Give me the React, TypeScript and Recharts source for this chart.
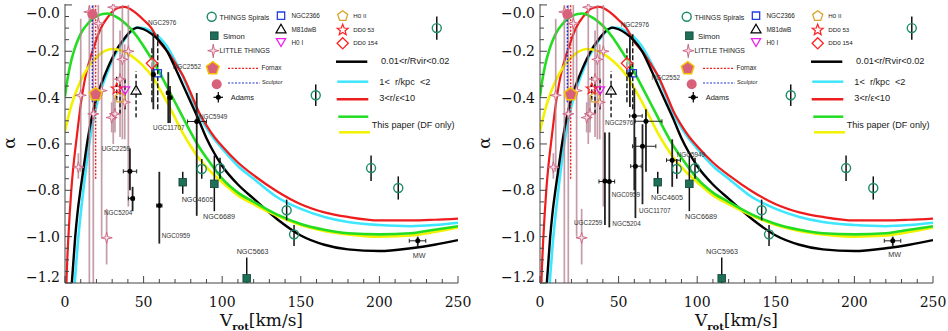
import React from 'react';
import { ComposedChart, Line, Scatter, XAxis, YAxis, ErrorBar } from 'recharts';

// model curves: alpha against V_rot
const CURVE_V = [0, 1, 2, 3, 4, 5, 6.5, 8, 10, 12, 14, 16, 18, 21, 24, 27, 30, 34, 38, 42, 46, 50, 55, 60, 65, 70, 75, 80, 85, 90, 95, 100, 110, 120, 135, 150, 165, 180, 200, 220, 235, 250];
const CURVE_BLACK = [null, null, null, -1.32, -1.23, -1.14, -1.0, -0.895, -0.79, -0.695, -0.6, -0.52, -0.455, -0.38, -0.325, -0.275, -0.23, -0.18, -0.143, -0.112, -0.098, -0.105, -0.125, -0.155, -0.2, -0.27, -0.345, -0.42, -0.495, -0.575, -0.64, -0.695, -0.775, -0.836, -0.925, -0.995, -1.035, -1.055, -1.062, -1.05, -1.035, -1.015];
const CURVE_CYAN = [null, null, null, null, -1.42, -1.32, -1.17, -1.04, -0.9, -0.78, -0.67, -0.575, -0.5, -0.41, -0.345, -0.29, -0.24, -0.19, -0.148, -0.115, -0.098, -0.1, -0.115, -0.14, -0.18, -0.24, -0.31, -0.39, -0.47, -0.53, -0.58, -0.62, -0.695, -0.75, -0.83, -0.88, -0.915, -0.937, -0.95, -0.955, -0.95, -0.94];
const CURVE_RED = [-1.45, -1.18, -1.02, -0.9, -0.8, -0.72, -0.625, -0.54, -0.43, -0.345, -0.28, -0.23, -0.19, -0.13, -0.085, -0.055, -0.03, -0.012, -0.008, -0.02, -0.04, -0.065, -0.1, -0.16, -0.2, -0.25, -0.305, -0.38, -0.46, -0.52, -0.57, -0.61, -0.68, -0.735, -0.805, -0.86, -0.895, -0.915, -0.93, -0.93, -0.927, -0.922];
const CURVE_GREEN = [-0.395, -0.345, -0.305, -0.27, -0.24, -0.215, -0.182, -0.155, -0.125, -0.102, -0.085, -0.07, -0.058, -0.046, -0.039, -0.037, -0.043, -0.057, -0.078, -0.104, -0.138, -0.178, -0.232, -0.29, -0.355, -0.42, -0.485, -0.55, -0.61, -0.66, -0.707, -0.75, -0.81, -0.85, -0.905, -0.945, -0.97, -0.985, -0.99, -0.985, -0.97, -0.955];
const CURVE_YELLOW = [-0.545, -0.515, -0.487, -0.46, -0.436, -0.414, -0.385, -0.358, -0.327, -0.3, -0.277, -0.257, -0.24, -0.22, -0.204, -0.194, -0.19, -0.193, -0.203, -0.219, -0.24, -0.265, -0.305, -0.36, -0.42, -0.487, -0.553, -0.61, -0.66, -0.7, -0.735, -0.765, -0.822, -0.86, -0.91, -0.95, -0.975, -0.99, -1.0, -0.995, -0.98, -0.96];

// THINGS spirals
const THINGS_V = [87, 98.6, 141, 145.7, 159.5, 194.7, 212, 236.5];
const THINGS_A = [-0.708, -0.705, -0.886, -0.99, -0.39, -0.704, -0.79, -0.1];
const THINGS_LO = [-0.75, -0.75, -0.93, -1.04, -0.436, -0.76, -0.84, -0.15];
const THINGS_HI = [-0.665, -0.66, -0.84, -0.95, -0.343, -0.65, -0.74, -0.05];

// Simon
const SIMON_V = [74.9, 95, 115.6];
const SIMON_A = [-0.765, -0.772, -1.18];
const SIMON_LO = [-0.815, -0.89, -1.2];
const SIMON_HI = [-0.72, -0.65, -1.09];

// LITTLE THINGS
const LT_V = [15.5, 21.2, 30.7, 10, 8.5, 26.5, 35, 36.5, 40.3, 29.7, 31.8, 38, 18, 23.3];
const LT_A = [-0.03, -0.08, -0.01, -0.39, -0.7, -1.005, -0.32, -0.235, -0.2, -0.486, -0.47, -0.42, -0.47, -0.37];
const LT_LO = [-1.2, -0.4, -0.6, -0.72, -0.75, -1.12, -0.57, -0.58, -0.87, -0.55, -0.55, -0.58, -1.2, -1.0];
const LT_HI = [0, 0, 0, -0.06, -0.64, -0.88, -0.11, 0, 0, -0.42, -0.4, -0.17, 0, -0.1];

// single dwarfs (dashed error bars)
const DWARF_NAMES = ['NGC2366', 'M81dwB', 'HoI', 'HoII', 'DDO53', 'DDO154'];
const DWARF_V = [59, 45.2, 38.2, 35, 32.9, 55.3];
const DWARF_A = [-0.295, -0.372, -0.365, -0.4, -0.362, -0.252];
const DWARF_LO = [-0.45, -0.485, -0.45, -0.47, -0.41, -0.42];
const DWARF_HI = [-0.12, -0.286, -0.32, -0.33, -0.31, -0.185];

// Fornax / Sculptor
const FORNAX = { v: 19.5, a: -0.386, lo: -0.75, hi: 0 };
const SCULPTOR = { v: 17.4, a: -0.04, lo: -0.42, hi: 0 };

// Adams, left panel
const ADAMS_L_V = [56.2, 65.7, 66.8, 83.8, 41.3, 43.0, 60.0, 224.4];
const ADAMS_L_A = [-0.3, -0.379, -0.4, -0.503, -0.718, -0.835, -0.866, -1.018];
const ADAMS_L_YLO = [-0.45, -0.51, -0.51, -0.91, -0.8, -0.89, -1.03, -1.04];
const ADAMS_L_YHI = [-0.12, -0.29, -0.35, -0.38, -0.62, -0.785, -0.72, -1.0];
const ADAMS_L_XLO = [55.2, 64.5, 65.5, 78, 37.1, 40.3, 58.3, 219];
const ADAMS_L_XHI = [57.2, 67, 68, 90, 45.6, 44, 61.7, 229.5];

// Adams, right panel
const ADAMS_R_V = [57.2, 60, 67.4, 65.2, 60.7, 44.1, 41.3, 84.1, 224.4];
const ADAMS_R_A = [-0.3, -0.479, -0.502, -0.61, -0.696, -0.762, -0.76, -0.67, -1.018];
const ADAMS_R_YLO = [-0.44, -0.8, -0.72, -0.86, -0.92, -0.96, -0.95, -0.785, -1.04];
const ADAMS_R_YHI = [-0.14, -0.36, -0.45, -0.515, -0.57, -0.55, -0.55, -0.58, -1.0];
const ADAMS_R_XLO = [56.2, 57, 60.6, 58.9, 57.7, 37.5, 40.8, 80.5, 219];
const ADAMS_R_XHI = [58.2, 65, 77.6, 73.7, 64.4, 47.5, 41.8, 89.3, 229.5];

// galaxy name annotations (data coords of the text start)
const LEFT_LABEL_TEXT = ['NGC2976', 'NGC2552', 'UGC11707', 'NGC5949', 'UGC2259', 'NGC4605', 'NGC6689', 'NGC5204', 'NGC0959', 'NGC5663', 'MW'];
const LEFT_LABEL_V = [52.8, 68.5, 56, 85.2, 23.3, 74.2, 87.8, 24.8, 61.5, 109.2, 221.2];
const LEFT_LABEL_A = [-0.077, -0.265, -0.528, -0.48, -0.618, -0.841, -0.914, -0.897, -0.996, -1.064, -1.08];
const RIGHT_LABEL_TEXT = ['NGC2976', 'NGC2552', 'NGC2976', 'NGC5949', 'NGC0959', 'NGC4605', 'UGC11707', 'NGC6689', 'NGC5204', 'UGC2259', 'NGC5963', 'MW'];
const RIGHT_LABEL_V = [51.3, 71, 41.3, 87, 45.6, 70.6, 63, 92.2, 46, 21.6, 105.6, 221.6];
const RIGHT_LABEL_A = [-0.086, -0.312, -0.508, -0.647, -0.82, -0.83, -0.888, -0.915, -0.945, -0.941, -1.066, -1.077];

const X_TICKS = Array.from({ length: 26 }, (_, i) => i * 10);
const Y_TICKS = Array.from({ length: 25 }, (_, i) => Math.round((-1.2 + i * 0.05) * 100) / 100);

const W = 474;
const H = 331;
const PLOT = { left: 65, right: 458, top: 4, bottom: 283 };
const FRAME = '#444';
const SERIF = '"DejaVu Serif", serif';
const SANS = '"Liberation Sans", Arial, sans-serif';
const BIG_LABELS = new Set(['NGC4605', 'NGC6689', 'NGC5663', 'NGC5963', 'MW']);

const curveRows = CURVE_V.map((v, i) => ({
    v,
    black: CURVE_BLACK[i],
    cyan: CURVE_CYAN[i],
    red: CURVE_RED[i],
    green: CURVE_GREEN[i],
    yellow: CURVE_YELLOW[i],
}));

const pts = (v: number[], a: number[], lo?: number[], hi?: number[], xlo?: number[], xhi?: number[]) =>
    v.map((x, i) => ({
        v: x,
        a: a[i],
        ey: lo && hi ? [a[i] - lo[i], hi[i] - a[i]] : undefined,
        ex: xlo && xhi ? [x - xlo[i], xhi[i] - x] : undefined,
    }));

const labelPts = (text: string[], v: number[], a: number[]) => text.map((t, i) => ({ v: v[i], a: a[i], text: t }));

const thingsPts = pts(THINGS_V, THINGS_A, THINGS_LO, THINGS_HI);
const simonPts = pts(SIMON_V, SIMON_A, SIMON_LO, SIMON_HI);
const ltPts = pts(LT_V, LT_A, LT_LO, LT_HI);
const adamsLeft = pts(ADAMS_L_V, ADAMS_L_A, ADAMS_L_YLO, ADAMS_L_YHI, ADAMS_L_XLO, ADAMS_L_XHI);
const adamsRight = pts(ADAMS_R_V, ADAMS_R_A, ADAMS_R_YLO, ADAMS_R_YHI, ADAMS_R_XLO, ADAMS_R_XHI);

// ---- symbols ----
const ring = (cx: number, cy: number, r: number, n: number, rot: number, inner?: number) => {
    const m = inner ? n * 2 : n;
    return Array.from({ length: m }, (_, i) => {
        const t = rot + (i * 2 * Math.PI) / m;
        const rr = inner && i % 2 === 1 ? inner : r;
        return `${(cx + rr * Math.cos(t)).toFixed(2)},${(cy + rr * Math.sin(t)).toFixed(2)}`;
    }).join(' ');
};
const UP = -Math.PI / 2;

const SYM: Record<string, (x: number, y: number) => React.ReactElement> = {
    things: (x, y) => <circle cx={x} cy={y} r={4.5} fill="none" stroke="#1d8a68" strokeWidth={1.4} />,
    simon: (x, y) => <rect x={x - 3.8} y={y - 3.8} width={7.6} height={7.6} fill="#1f6e58" stroke="#0f4434" strokeWidth={0.8} />,
    little: (x, y) => <polygon points={ring(x, y, 5.6, 4, UP, 1.6)} fill="#f6dde4" stroke="#c8607e" strokeWidth={0.9} />,
    fornax: (x, y) => <polygon points={ring(x, y, 6.6, 5, UP)} fill="#d9607a" stroke="#f2c200" strokeWidth={1.5} />,
    sculptor: (x, y) => <circle cx={x} cy={y} r={5} fill="#d9607a" />,
    adams: (x, y) => <circle cx={x} cy={y} r={2.5} fill="#000" />,
    NGC2366: (x, y) => <polygon points={ring(x, y, 5.2, 4, Math.PI / 4)} fill="none" stroke="#2040e0" strokeWidth={1.3} />,
    M81dwB: (x, y) => <polygon points={ring(x, y, 5.8, 3, UP)} fill="#fff" fillOpacity={0.6} stroke="#000" strokeWidth={1.2} />,
    HoI: (x, y) => <polygon points={ring(x, y, 5.3, 3, Math.PI / 2)} fill="none" stroke="#ee22ee" strokeWidth={1.3} />,
    HoII: (x, y) => <polygon points={ring(x, y, 5.3, 5, UP)} fill="none" stroke="#d9a530" strokeWidth={1.3} />,
    DDO53: (x, y) => <polygon points={ring(x, y, 5.8, 5, UP, 2.5)} fill="none" stroke="#ff2020" strokeWidth={1.2} />,
    DDO154: (x, y) => <polygon points={ring(x, y, 5.6, 4, UP)} fill="#fff" fillOpacity={0.5} stroke="#ff2020" strokeWidth={1.3} />,
};

// ---- axis ticks (drawn inward, IDL style) ----
const BottomTick = (p: any) => {
    const v = p.payload.value;
    const major = v % 50 === 0;
    return (
        <g>
            <line x1={p.x} x2={p.x} y1={PLOT.bottom} y2={PLOT.bottom - (major ? 7 : 4)} stroke={FRAME} />
            {major ? (
                <text x={p.x} y={PLOT.bottom + 24} textAnchor="middle" fontFamily={SERIF} fontSize={14} fill="#111">
                    {v}
                </text>
            ) : null}
        </g>
    );
};

const TopTick = (p: any) => {
    const major = p.payload.value % 50 === 0;
    return <line x1={p.x} x2={p.x} y1={PLOT.top} y2={PLOT.top + (major ? 7 : 4)} stroke={FRAME} />;
};

const isMajorY = (v: number) => Math.abs(Math.round(v * 100)) % 20 === 0;

const LeftTick = (p: any) => {
    const v = p.payload.value;
    const major = isMajorY(v);
    const shift = v === 0 ? 8 : v <= -1.19 ? -6 : 0;
    return (
        <g>
            <line x1={PLOT.left} x2={PLOT.left + (major ? 7 : 4)} y1={p.y} y2={p.y} stroke={FRAME} />
            {major ? (
                <text x={PLOT.left - 5} y={p.y + 5 + shift} textAnchor="end" fontFamily={SERIF} fontSize={14} fill="#111">
                    {'\u2212' + Math.abs(v).toFixed(1)}
                </text>
            ) : null}
        </g>
    );
};

const RightTick = (p: any) => {
    const major = isMajorY(p.payload.value);
    return <line x1={PLOT.right} x2={PLOT.right - (major ? 7 : 4)} y1={p.y} y2={p.y} stroke={FRAME} />;
};

// ---- legend overlay ----
const Legend = () => (
    <svg width={W} height={H} style={{ position: 'absolute', left: 0, top: 0, pointerEvents: 'none' }}>
        <g fontFamily={SANS} fill="#222">
            {SYM.things(211.7, 16.7)}
            <text x={219.5} y={19.6} fontSize={7}>THINGS Spirals</text>
            {SYM.simon(214.3, 35.7)}
            <text x={223} y={39} fontSize={7.7}>Simon</text>
            <line x1={213.3} x2={213.3} y1={44} y2={58} stroke="#b7889a" strokeWidth={1.4} />
            {SYM.little(213.3, 50.7)}
            <text x={219.5} y={53.4} fontSize={6.9}>LITTLE THINGS</text>
            {SYM.fornax(212.7, 68.3)}
            <line x1={228} x2={259} y1={68.3} y2={68.3} stroke="#ee2020" strokeWidth={1.2} strokeDasharray="2 1.5" />
            <text x={261.5} y={70} fontSize={6.4}>Fornax</text>
            {SYM.sculptor(216.7, 84.3)}
            <line x1={228} x2={260} y1={83} y2={83} stroke="#2030d0" strokeWidth={1.2} strokeDasharray="2 1.5" />
            <text x={262} y={83.5} fontSize={5.6}>Sculptor</text>
            <line x1={213.5} x2={223} y1={97.3} y2={97.3} stroke="#000" strokeWidth={1.2} />
            <line x1={218.3} x2={218.3} y1={92} y2={102.5} stroke="#000" strokeWidth={1.2} />
            {SYM.adams(218.3, 97.3)}
            <text x={230.7} y={100.3} fontSize={7.5}>Adams</text>

            {SYM.NGC2366(281, 15.7)}
            <text x={291.5} y={18} fontSize={6.4}>NGC2366</text>
            {SYM.M81dwB(281, 30)}
            <text x={291.5} y={31.8} fontSize={6.4}>M81dwB</text>
            {SYM.HoI(281, 41.2)}
            <text x={291.5} y={45} fontSize={6.4}>H0 I</text>
            {SYM.HoII(342.7, 16)}
            <text x={353.3} y={18} fontSize={6.2}>H0 II</text>
            {SYM.DDO53(342.7, 30)}
            <text x={353.3} y={32.3} fontSize={6.2}>DD0 53</text>
            {SYM.DDO154(342.7, 43.3)}
            <text x={353.3} y={45} fontSize={6.2}>DD0 154</text>

            <line x1={336} x2={367.3} y1={61.7} y2={61.7} stroke="#000" strokeWidth={2.5} />
            <text x={381} y={64.3} fontSize={9.2}>0.01&lt;r/Rvir&lt;0.02</text>
            <line x1={337.3} x2={368.3} y1={81.7} y2={81.7} stroke="#3ee6ff" strokeWidth={2.5} />
            <text x={379.3} y={84.8} fontSize={9.2} style={{ whiteSpace: 'pre' }}>{'1<  r/kpc  <2'}</text>
            <line x1={336.7} x2={368.3} y1={99.3} y2={99.3} stroke="#ee1c1c" strokeWidth={2.5} />
            <text x={379.3} y={100.8} fontSize={9.2}>3&lt;r/ε&lt;10</text>
            <line x1={338.3} x2={368.3} y1={116.7} y2={116.7} stroke="#22dd22" strokeWidth={2.5} />
            <text x={371.7} y={128.2} fontSize={9.1}>This paper (DF only)</text>
            <line x1={339} x2={370} y1={132.3} y2={132.3} stroke="#f2f200" strokeWidth={2.5} />
        </g>
        <text x={9} y={143} transform="rotate(-90 9 143)" textAnchor="middle" dominantBaseline="central" fontFamily={SERIF} fontSize={17} fill="#111">
            α
        </text>
        <text x={261.5} y={326} textAnchor="middle" fontFamily={SERIF} fontSize={17} fill="#111">
            V
            <tspan fontSize={10} fontWeight="bold" dy={4}>rot</tspan>
            <tspan fontSize={17} dy={-4}>[km/s]</tspan>
        </text>
    </svg>
);

const textShape = (p: any) => {
    const t = p.payload?.text ?? p.text;
    return (
        <text x={p.cx} y={p.cy} dominantBaseline="central" fontFamily={SANS} fontSize={BIG_LABELS.has(t) ? 7.2 : 6.4} fill="#333">
            {t}
        </text>
    );
};

const dwarfStyle = (name: string) => (name === 'NGC2366' || name === 'DDO154' ? '5 2' : '4 2.5');

const Panel: React.FC<{ adams: any[]; labels: any[] }> = ({ adams, labels }) => (
    <div style={{ position: 'relative', width: W, height: H }}>
        <ComposedChart width={W} height={H} data={curveRows} margin={{ top: 4, right: 16, bottom: 8, left: 10 }}>
            <XAxis dataKey="v" type="number" domain={[0, 250]} ticks={X_TICKS} interval={0} height={40} allowDataOverflow axisLine={{ stroke: FRAME }} tickLine={false} tick={BottomTick} />
            <XAxis xAxisId="top" orientation="top" type="number" domain={[0, 250]} ticks={X_TICKS} interval={0} height={0} axisLine={{ stroke: FRAME }} tickLine={false} tick={TopTick} />
            <YAxis type="number" domain={[-1.2, 0.004]} ticks={Y_TICKS} interval={0} width={55} allowDataOverflow axisLine={{ stroke: FRAME }} tickLine={false} tick={LeftTick} />
            <YAxis yAxisId="right" orientation="right" type="number" domain={[-1.2, 0.004]} ticks={Y_TICKS} interval={0} width={0} axisLine={{ stroke: FRAME }} tickLine={false} tick={RightTick} />

            <Line dataKey="cyan" type="monotone" stroke="#3ee6ff" strokeWidth={2.6} dot={false} isAnimationActive={false} />
            <Line dataKey="red" type="monotone" stroke="#ee1c1c" strokeWidth={2.2} dot={false} isAnimationActive={false} />
            <Line dataKey="black" type="monotone" stroke="#000" strokeWidth={2.4} dot={false} isAnimationActive={false} />
            <Line dataKey="yellow" type="monotone" stroke="#f2f200" strokeWidth={2.6} dot={false} isAnimationActive={false} />
            <Line dataKey="green" type="monotone" stroke="#22dd22" strokeWidth={2.6} dot={false} isAnimationActive={false} />

            <Scatter data={ltPts} dataKey="a" shape={(p: any) => SYM.little(p.cx, p.cy)} isAnimationActive={false}>
                <ErrorBar dataKey="ey" direction="y" width={0} stroke="#b58494" strokeWidth={1.7} strokeOpacity={0.8} />
            </Scatter>
            <Scatter data={[{ v: SCULPTOR.v, a: SCULPTOR.a, ey: [SCULPTOR.a - SCULPTOR.lo, SCULPTOR.hi - SCULPTOR.a] }]} dataKey="a" shape={(p: any) => SYM.sculptor(p.cx, p.cy)} isAnimationActive={false}>
                <ErrorBar dataKey="ey" direction="y" width={0} stroke="#2030d0" strokeWidth={1.4} strokeDasharray="2 1.5" />
            </Scatter>
            <Scatter data={[{ v: FORNAX.v, a: FORNAX.a, ey: [FORNAX.a - FORNAX.lo, FORNAX.hi - FORNAX.a] }]} dataKey="a" shape={(p: any) => SYM.fornax(p.cx, p.cy)} isAnimationActive={false}>
                <ErrorBar dataKey="ey" direction="y" width={0} stroke="#ee2020" strokeWidth={1.4} strokeDasharray="2 1.5" />
            </Scatter>
            {DWARF_NAMES.map((name, i) => (
                <Scatter
                    key={name}
                    data={[{ v: DWARF_V[i], a: DWARF_A[i], ey: [DWARF_A[i] - DWARF_LO[i], DWARF_HI[i] - DWARF_A[i]] }]}
                    dataKey="a"
                    shape={(p: any) => SYM[name](p.cx, p.cy)}
                    isAnimationActive={false}
                >
                    <ErrorBar dataKey="ey" direction="y" width={0} stroke="#111" strokeWidth={1.4} strokeDasharray={dwarfStyle(name)} />
                </Scatter>
            ))}
            <Scatter data={thingsPts} dataKey="a" shape={(p: any) => SYM.things(p.cx, p.cy)} isAnimationActive={false}>
                <ErrorBar dataKey="ey" direction="y" width={0} stroke="#111" strokeWidth={1.5} />
            </Scatter>
            <Scatter data={simonPts} dataKey="a" shape={(p: any) => SYM.simon(p.cx, p.cy)} isAnimationActive={false}>
                <ErrorBar dataKey="ey" direction="y" width={0} stroke="#111" strokeWidth={1.5} />
            </Scatter>
            <Scatter data={adams} dataKey="a" shape={(p: any) => SYM.adams(p.cx, p.cy)} isAnimationActive={false}>
                <ErrorBar dataKey="ey" direction="y" width={0} stroke="#222" strokeWidth={1.8} />
                <ErrorBar dataKey="ex" direction="x" width={2} stroke="#222" strokeWidth={1} />
            </Scatter>
            <Scatter data={labels} dataKey="a" shape={textShape} isAnimationActive={false} />
        </ComposedChart>
        <Legend />
    </div>
);

export default function App() {
    return (
        <div style={{ position: 'absolute', left: 0, top: 0, width: 948, height: 331, background: '#fff', overflow: 'hidden' }}>
            <div style={{ position: 'absolute', left: 0, top: 0 }}>
                <Panel adams={adamsLeft} labels={labelPts(LEFT_LABEL_TEXT, LEFT_LABEL_V, LEFT_LABEL_A)} />
            </div>
            <div style={{ position: 'absolute', left: 475, top: 0 }}>
                <Panel adams={adamsRight} labels={labelPts(RIGHT_LABEL_TEXT, RIGHT_LABEL_V, RIGHT_LABEL_A)} />
            </div>
        </div>
    );
}
